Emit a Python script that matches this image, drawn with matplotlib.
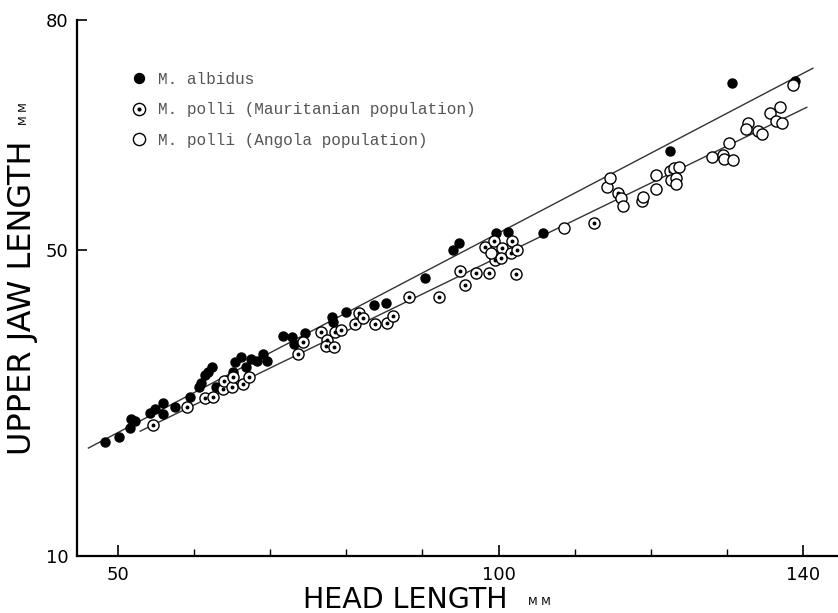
import matplotlib
matplotlib.use("Agg")
import matplotlib.pyplot as plt
from matplotlib.legend_handler import HandlerTuple
from matplotlib.ticker import FixedLocator

# M. albidus (filled)
albidus_x = [48.3, 50.1, 51.5, 51.7, 52.2, 54.2, 54.9, 55.9, 55.9, 57.5,
             59.5, 60.6, 60.9, 61.4, 61.8, 62.4, 62.8, 65.1, 65.4, 66.2,
             66.8, 67.5, 68.3, 69.1, 69.6, 71.7, 72.9, 73.1, 74.6, 78.1,
             78.3, 80.0, 83.6, 85.2, 90.3, 94.0, 94.8, 99.7, 101.3, 105.9,
             122.5, 130.7, 139.0]
albidus_y = [24.9, 25.5, 26.7, 27.9, 27.6, 28.7, 29.2, 30.0, 28.6, 29.5,
             30.8, 32.1, 32.6, 33.6, 34.0, 34.7, 32.1, 34.0, 35.3, 36.0,
             34.7, 35.7, 35.5, 36.4, 35.5, 38.7, 38.6, 37.7, 39.1, 41.2,
             40.6, 41.9, 42.8, 43.0, 46.3, 50.0, 50.9, 52.2, 52.3, 52.2,
             62.9, 71.8, 72.0]

# M. polli, Mauritanian population (dotted circles)
maur_x = [54.6, 59.1, 61.4, 62.5, 63.8, 63.9, 65.0, 65.1, 66.4, 67.2,
          73.7, 74.3, 76.7, 77.5, 77.3, 78.4, 78.5, 79.3, 81.1, 81.7,
          82.2, 83.8, 85.4, 86.1, 88.2, 92.2, 94.9, 95.6, 97.0, 98.8,
          98.2, 99.4, 100.5, 99.5, 100.3, 101.8, 101.6, 102.4, 102.3,
          112.6, 115.7, 122.5]
maur_y = [27.1, 29.5, 30.6, 30.8, 31.8, 32.9, 32.1, 33.4, 32.5, 33.4,
          36.4, 38.0, 39.3, 38.2, 37.4, 37.3, 39.3, 39.5, 40.3, 41.7,
          41.1, 40.3, 40.4, 41.3, 43.8, 43.8, 47.2, 45.4, 47.0, 47.0,
          50.4, 51.1, 50.2, 48.7, 48.9, 51.1, 49.6, 50.0, 46.8,
          53.5, 57.4, 60.3]

# M. polli, Angola population (open circles)
angola_x = [99.0, 108.6, 114.3, 114.7, 116.1, 116.4, 118.9, 119.0, 120.7,
            120.7, 123.1, 123.7, 122.7, 123.3, 123.3, 128.1, 129.5, 129.6,
            130.8, 130.3, 132.8, 132.5, 134.1, 134.6, 135.6, 137.0, 136.5,
            137.3, 138.7]
angola_y = [49.6, 52.8, 58.2, 59.4, 56.8, 55.7, 56.4, 56.9, 57.9,
            59.8, 60.7, 60.8, 59.1, 59.4, 58.6, 62.1, 62.4, 61.9,
            61.7, 63.9, 66.6, 65.8, 65.5, 65.1, 67.9, 68.6, 66.8,
            66.6, 71.5]

# regression lines (end points)
albidus_line_x = [46.1, 141.3]
albidus_line_y = [24.1, 73.7]
polli_line_x = [52.9, 140.5]
polli_line_y = [26.3, 68.6]

x_major = [50, 100, 140]
x_minor = [60, 70, 80, 90, 110, 120, 130]
y_major = [10, 50, 80]

fig = plt.figure(figsize=(8.38, 6.13), dpi=100)
ax = fig.add_axes([77 / 838, 57 / 613, 761 / 838, 536 / 613])

ax.plot(albidus_line_x, albidus_line_y, color="#333333", lw=1.0)
ax.plot(polli_line_x, polli_line_y, color="#333333", lw=1.0)

h1, = ax.plot(albidus_x, albidus_y, "o", color="black", ms=6.5, mec="black")
h2, = ax.plot(maur_x, maur_y, "o", mfc="white", mec="black", ms=8, mew=1.0)
h2d, = ax.plot(maur_x, maur_y, "o", color="black", ms=1.8)
h3, = ax.plot(angola_x, angola_y, "o", mfc="white", mec="black", ms=8, mew=1.0)

ax.set_xlim(44.6, 144.6)
ax.set_ylim(10, 80)

for s in ["top", "right"]:
    ax.spines[s].set_visible(False)
for s in ["left", "bottom"]:
    ax.spines[s].set_linewidth(1.6)

ax.xaxis.set_major_locator(FixedLocator(x_major))
ax.xaxis.set_minor_locator(FixedLocator(x_minor))
ax.yaxis.set_major_locator(FixedLocator(y_major))
ax.tick_params(axis="x", which="major", direction="in", length=8, width=1.2,
               labelsize=13, pad=7)
ax.tick_params(axis="x", which="minor", direction="in", length=5, width=1.0)
ax.tick_params(axis="y", which="major", direction="in", length=7, width=1.2,
               labelsize=13, pad=6)
ax.yaxis.get_major_ticks()[0].tick1line.set_visible(False)

fig.text(0.484, 0.021, "HEAD LENGTH", ha="center", va="center", fontsize=20.5)
fig.text(0.644, 0.018, "M M", ha="center", va="center", fontsize=8)
fig.text(0.027, 0.515, "UPPER JAW LENGTH", ha="center", va="center",
         rotation=90, fontsize=23)
fig.text(0.029, 0.815, "M M", ha="center", va="center", rotation=90, fontsize=8)

leg = ax.legend([h1, (h2, h2d), h3],
                ["M. albidus", "M. polli (Mauritanian population)",
                 "M. polli (Angola population)"],
                handler_map={tuple: HandlerTuple(ndivide=1, pad=0)},
                loc="upper left", bbox_to_anchor=(0.06, 0.918), frameon=False,
                borderpad=0, handlelength=1.0, handletextpad=0.7,
                labelspacing=0.95, markerscale=1.1,
                prop={"family": "Liberation Mono", "size": 11.6})
for t in leg.get_texts():
    t.set_color("#555555")

fig.savefig("out.png", dpi=100)
